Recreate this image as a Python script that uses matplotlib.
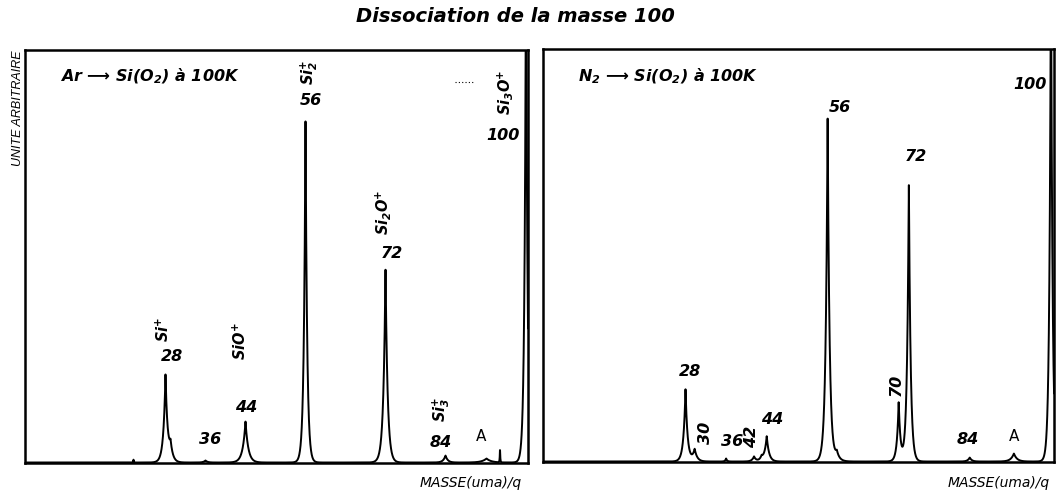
import numpy as np
import matplotlib
matplotlib.use("Agg")
import matplotlib.pyplot as plt

plt.rcParams['font.family'] = ['DejaVu Sans']

# Peak list for each spectrum: mass position, height (arbitrary units), half-width
ar_mass   = [21.6, 28,  29,  36,  44,  56,  72,  84,  92.2, 94.9, 100.1]
ar_height = [3,    86,  16,  2,   41,  344, 195, 7,   4,    14,   520]
ar_width  = [0.08, 0.42,0.5, 0.4, 0.55,0.33,0.42,0.45,0.9,  0.06, 0.3]

n2_mass   = [28,  29.8, 36,  41.5, 43,  44,  56,  57.8, 70,  72,  84,  92.7, 100]
n2_height = [72,  12,   3,   5,    4,   25,  345, 9,    59,  280, 4,   8,    520]
n2_width  = [0.4, 0.5,  0.2, 0.4,  0.4, 0.45,0.38,0.6,  0.35,0.35,0.4, 0.6,  0.3]

ar_labels = [
    # text, mass, height, rotation
    (r"Si$^{+}$", 27.5, 133, 90),
    ("28", 29.3, 106, 0),
    ("36", 36.9, 23, 0),
    (r"SiO$^{+}$", 42.9, 121, 90),
    ("44", 44.1, 55, 0),
    (r"Si$_2^{+}$", 56.7, 390, 90),
    ("56", 57.1, 362, 0),
    (r"Si$_2$O$^{+}$", 71.5, 250, 90),
    ("72", 73.2, 209, 0),
    (r"Si$_3^{+}$", 83.1, 53, 90),
    ("84", 83.1, 20, 0),
    (r"Si$_3$O$^{+}$", 95.9, 370, 90),
    ("100", 95.5, 327, 0),
]
n2_labels = [
    ("28", 28.9, 90, 0),
    ("30", 31.9, 29, 90),
    ("36", 37.2, 20, 0),
    ("42", 41.1, 25, 90),
    ("44", 45.1, 42, 0),
    ("56", 58.5, 354, 0),
    ("70", 69.5, 77, 90),
    ("72", 73.4, 305, 0),
    ("84", 83.6, 22, 0),
    ("100", 95.8, 377, 0),
]

plt.rcParams['mathtext.fontset'] = 'custom'
plt.rcParams['mathtext.rm'] = 'DejaVu Sans:bold:italic'
plt.rcParams['mathtext.it'] = 'DejaVu Sans:bold:italic'
plt.rcParams['mathtext.bf'] = 'DejaVu Sans:bold:italic'


def spectrum(x, masses, heights, widths):
    y = np.zeros_like(x)
    for m, h, w in zip(masses, heights, widths):
        y += h * np.exp(-np.abs(x - m) / w)
    return y


W, H = 1057, 494
fig = plt.figure(figsize=(W / 100, H / 100), dpi=100)
ax1 = fig.add_axes([25 / W, (H - 462.5) / H, 503 / W, 412.5 / H])
ax2 = fig.add_axes([543.4 / W, (H - 461.5) / H, 510.6 / W, 413 / H])

x = np.linspace(-1, 102, 6000)
num_kw = dict(fontsize=11.5, fontweight='bold', fontstyle='italic',
              ha='center', va='center')
ion_kw = dict(num_kw, fontsize=10.5)

for ax, masses, heights, widths, labels, xlim, ymax in (
        (ax1, ar_mass, ar_height, ar_width, ar_labels, (-0.1, 100.5), 412.5),
        (ax2, n2_mass, n2_height, n2_width, n2_labels, (0.0, 100.6), 413)):
    ax.plot(x, spectrum(x, masses, heights, widths), color='black', lw=1.4)
    ax.set_xlim(*xlim)
    ax.set_ylim(0, ymax)
    ax.set_xticks([])
    ax.set_yticks([])
    for s in ax.spines.values():
        s.set_linewidth(1.8)
    for txt, m, h, rot in labels:
        ax.text(m, h, txt, rotation=rot, **(ion_kw if '$' in txt else num_kw))

ax1.text(91.2, 26, "A", fontsize=11, ha='center', va='center')
ax2.text(92.7, 25, "A", fontsize=11, ha='center', va='center')
ax1.plot([85.9, 89.9], [380, 380], color='black', lw=0.8, ls=(0, (1, 2)))

head_kw = dict(fontsize=11.5, fontweight='bold', fontstyle='italic',
               ha='left', va='center')
ax1.text(0.07, 0.937, r"Ar ⟶ Si(O$_2$) à 100K", transform=ax1.transAxes, **head_kw)
ax2.text(0.068, 0.932, r"N$_2$ ⟶ Si(O$_2$) à 100K", transform=ax2.transAxes, **head_kw)

fig.text(515 / W, 1 - 17 / H, "Dissociation de la masse 100",
         fontsize=14, fontweight='bold', fontstyle='italic',
         ha='center', va='center')
fig.text(18 / W, 1 - 50 / H, "UNITE ARBITRAIRE", rotation=90,
         fontsize=9, fontstyle='italic', ha='center', va='top',
         family='Liberation Sans')
fig.text(522 / W, 1 - 483 / H, "MASSE(uma)/q", fontsize=10,
         fontstyle='italic', ha='right', va='center')
fig.text(1050 / W, 1 - 483 / H, "MASSE(uma)/q", fontsize=10,
         fontstyle='italic', ha='right', va='center')

fig.savefig("out.png", dpi=100)
